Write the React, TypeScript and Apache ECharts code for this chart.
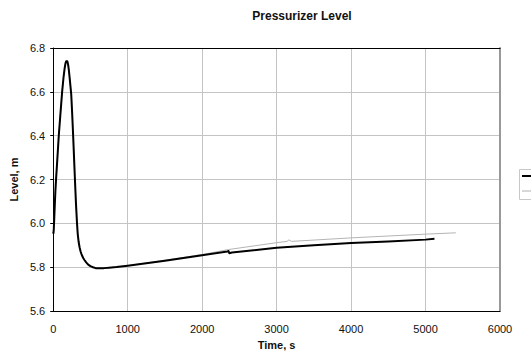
import React, { useEffect, useRef } from "react";
import * as echarts from "echarts";

const titleText = "Pressurizer Level";
const xName = "Time, s";
const yName = "Level, m";

const xTicks = { min: 0, max: 6000, interval: 1000 };
const yTicks = { min: 5.6, max: 6.8, interval: 0.2 };

// Series 1 (thick black)
const time1 = [0, 4, 8, 14, 22, 30, 40, 55, 75, 95, 120, 140, 155, 165, 175, 182, 190, 200, 210, 222, 242, 255, 268, 280, 292, 306, 320, 330, 342, 355, 368, 380, 392, 405, 420, 443, 470, 500, 535, 570, 620, 680, 750, 850, 1000, 1500, 2000, 2340, 2355, 2365, 2400, 3000, 3500, 4000, 4500, 5000, 5120];
const level1 = [5.96, 5.955, 5.975, 6.02, 6.09, 6.15, 6.21, 6.29, 6.4, 6.49, 6.6, 6.67, 6.71, 6.73, 6.74, 6.742, 6.74, 6.725, 6.7, 6.66, 6.59, 6.5, 6.4, 6.3, 6.2, 6.09, 6.0, 5.95, 5.915, 5.89, 5.872, 5.86, 5.85, 5.841, 5.833, 5.822, 5.812, 5.805, 5.8, 5.796, 5.795, 5.796, 5.798, 5.801, 5.807, 5.83, 5.855, 5.872, 5.874, 5.864, 5.867, 5.889, 5.9, 5.911, 5.918, 5.926, 5.93];

// Series 2 (thin grey)
const time2 = [0, 4, 8, 14, 22, 30, 40, 55, 75, 95, 120, 140, 155, 165, 175, 182, 190, 200, 210, 222, 242, 255, 268, 280, 292, 306, 320, 330, 342, 355, 368, 380, 392, 405, 420, 443, 470, 500, 535, 570, 620, 680, 750, 850, 1000, 1500, 2000, 2357, 2400, 3000, 3140, 3166, 3200, 4000, 5000, 5407];
const level2 = [5.96, 5.955, 5.975, 6.02, 6.09, 6.15, 6.21, 6.29, 6.4, 6.49, 6.6, 6.67, 6.71, 6.73, 6.74, 6.742, 6.74, 6.725, 6.7, 6.66, 6.59, 6.5, 6.4, 6.3, 6.2, 6.09, 6.0, 5.95, 5.915, 5.89, 5.872, 5.86, 5.85, 5.841, 5.833, 5.822, 5.812, 5.805, 5.8, 5.796, 5.795, 5.796, 5.798, 5.801, 5.807, 5.832, 5.858, 5.881, 5.883, 5.912, 5.918, 5.925, 5.918, 5.934, 5.951, 5.957];

const seriesNames = ["Series 1", "Series 2"];

const font = "Liberation Sans, Arial, sans-serif";

export default function App() {
  const ref = useRef<HTMLDivElement>(null);
  useEffect(() => {
    if (!ref.current) return;
    const chart = echarts.init(ref.current, null, { renderer: "svg" });
    const d1 = time1.map((t, i) => [t, level1[i]]);
    const d2 = time2.map((t, i) => [t, level2[i]]);
    chart.setOption({
      animation: false,
      backgroundColor: "#ffffff",
      grid: { left: 47, right: 31, top: 48, bottom: 37, containLabel: false },
      graphic: [
        {
          type: "text",
          x: 302,
          y: 10,
          style: {
            text: titleText,
            fontFamily: font,
            fontSize: 12,
            fontWeight: "bold",
            fill: "#111",
            textAlign: "center",
          },
        },
        {
          type: "rect",
          shape: { x: 519.5, y: 169.5, width: 40, height: 30 },
          style: { fill: "#fff", stroke: "#c8c8c8", lineWidth: 1 },
        },
        {
          type: "line",
          shape: { x1: 522, y1: 176, x2: 540, y2: 176 },
          style: { stroke: "#000", lineWidth: 2 },
        },
        {
          type: "line",
          shape: { x1: 522, y1: 191, x2: 540, y2: 191 },
          style: { stroke: "#b0b0b0", lineWidth: 1 },
        },
      ],
      xAxis: [
        {
          type: "value",
          min: xTicks.min,
          max: xTicks.max,
          interval: xTicks.interval,
          name: xName,
          nameLocation: "middle",
          nameGap: 27,
          nameTextStyle: { fontFamily: font, fontSize: 11, fontWeight: "bold", color: "#111" },
          axisLine: { show: true, onZero: false, lineStyle: { color: "#000", width: 1 } },
          axisTick: { show: false },
          axisLabel: {
            fontFamily: font,
            fontSize: 11,
            color: "#111",
            margin: 12,
            formatter: (v: number) => String(v),
          },
          splitLine: { show: true, lineStyle: { color: "#c4c4c4", width: 1 } },
        },
        {
          type: "value",
          position: "top",
          min: xTicks.min,
          max: xTicks.max,
          interval: xTicks.interval,
          axisLine: { show: true, onZero: false, lineStyle: { color: "#000", width: 1 } },
          axisTick: { show: false },
          axisLabel: { show: false },
          splitLine: { show: false },
        },
      ],
      yAxis: [
        {
          type: "value",
          min: yTicks.min,
          max: yTicks.max,
          interval: yTicks.interval,
          name: yName,
          nameLocation: "middle",
          nameGap: 28,
          nameTextStyle: { fontFamily: font, fontSize: 11, fontWeight: "bold", color: "#111" },
          axisLine: { show: true, onZero: false, lineStyle: { color: "#000", width: 1 } },
          axisTick: { show: true, length: 3, lineStyle: { color: "#000" } },
          axisLabel: {
            fontFamily: font,
            fontSize: 11,
            color: "#111",
            margin: 8,
            formatter: (v: number) => v.toFixed(1),
          },
          splitLine: { show: true, lineStyle: { color: "#c4c4c4", width: 1 } },
        },
        {
          type: "value",
          position: "right",
          min: yTicks.min,
          max: yTicks.max,
          interval: yTicks.interval,
          axisLine: { show: true, onZero: false, lineStyle: { color: "#999", width: 2 } },
          axisTick: { show: false },
          axisLabel: { show: false },
          splitLine: { show: false },
        },
      ],
      series: [
        {
          name: seriesNames[1],
          type: "line",
          data: d2,
          showSymbol: false,
          lineStyle: { color: "#b4b4b4", width: 1 },
          z: 2,
        },
        {
          name: seriesNames[0],
          type: "line",
          data: d1,
          showSymbol: false,
          lineStyle: { color: "#000", width: 2, join: "round" },
          z: 3,
        },
      ],
    });
    return () => chart.dispose();
  }, []);
  return (
    <div
      ref={ref}
      style={{ position: "fixed", left: 0, top: 0, width: 531, height: 355 }}
    />
  );
}
